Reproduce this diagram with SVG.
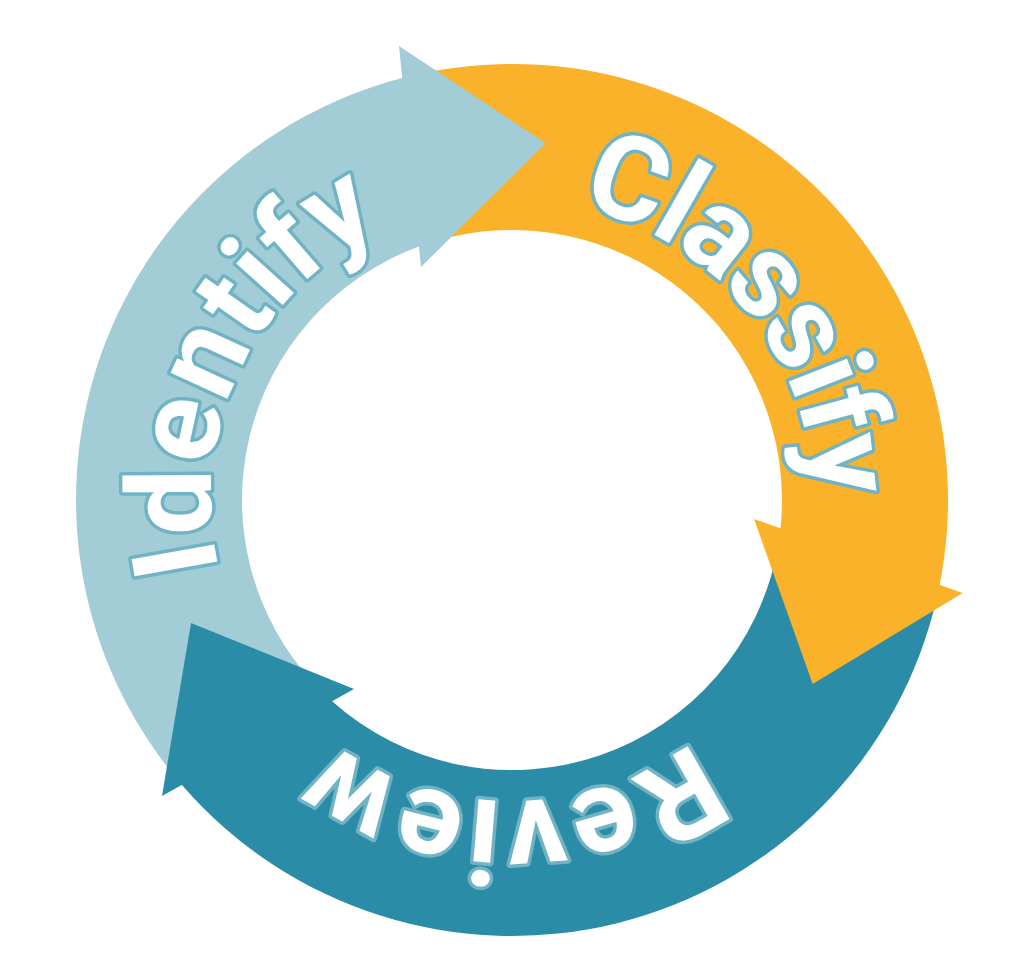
<svg xmlns="http://www.w3.org/2000/svg" xmlns:xlink="http://www.w3.org/1999/xlink" width="1024" height="978" viewBox="0 0 1024 978">
  <defs>
    <path id="ring" d="M 813,500 A 301 301 0 1 1 211,500 A 301 301 0 1 1 813,500"/>
  </defs>
  <style>
    .lb { fill: #A3CDD6; }
    .or { fill: #F9B229; }
    .tl { fill: #2A8CA6; }
    .lbl { font-family: Roboto, "Open Sans", "DejaVu Sans", sans-serif; font-weight: 700; font-size: 118px; fill: #FFFFFF; stroke: #70B3C4; stroke-width: 7; paint-order: stroke; stroke-linejoin: round; }
  </style>
  <rect width="1024" height="978" fill="#FFFFFF"/>
  <g id="identify">
    <path class="lb" d="M 173.2,774.4 A 436 436 0 0 1 402.1,78.1 L 408.1,77.5 L 424.8,246.0 L 418.8,246.6 A 270 270 0 0 0 314.5,684.1 Z"/>
    <text class="lbl" textLength="409.8" lengthAdjust="spacing"><textPath xlink:href="#ring" href="#ring" startOffset="874.7">Identify</textPath></text>
  </g>
  <g id="classify">
    <path class="or" d="M 417.6,74.3 A 436 436 0 0 1 939.6,585.1 L 937.6,590.8 L 778.5,533.8 L 780.5,528.1 A 270 270 0 0 0 433.1,241.8 Z"/>
    <text class="lbl" textLength="403" lengthAdjust="spacing"><textPath xlink:href="#ring" href="#ring" startOffset="1485">Classify</textPath></text>
  </g>
  <g id="review">
    <path class="tl" d="M 936.8,598.1 A 436 436 0 0 1 182.4,785.4 L 179.5,780.2 L 329.5,696.4 L 332.4,701.6 A 270 270 0 0 0 777.5,549.2 Z"/>
    <text class="lbl" textLength="388.8" lengthAdjust="spacing"><textPath xlink:href="#ring" href="#ring" startOffset="278.4">Review</textPath></text>
  </g>
  <g id="connectors">
    <path class="lb" d="M 399,46 L 545.7,143.3 L 421,267 Z"/>
    <path class="or" d="M 754,519 L 962.7,593 L 812.7,684 Z"/>
    <path class="tl" d="M 354,689 L 162,796 L 191,623 Z"/>
  </g>
</svg>
